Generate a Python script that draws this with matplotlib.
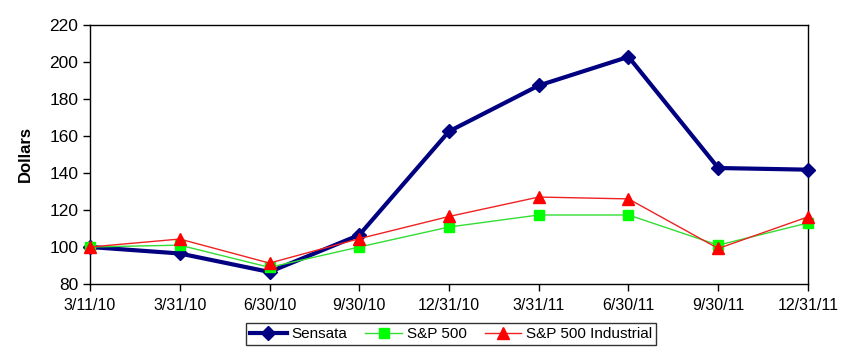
import matplotlib
matplotlib.use('Agg')
import matplotlib.pyplot as plt

plt.rcParams['font.family'] = ['Liberation Sans', 'DejaVu Sans']

dates = ['3/11/10', '3/31/10', '6/30/10', '9/30/10', '12/31/10',
         '3/31/11', '6/30/11', '9/30/11', '12/31/11']
sensata = [100, 96.5, 86.5, 106.5, 162.5, 187.3, 202.8, 142.7, 141.8]
sp500 = [100, 101, 89, 100, 110.8, 117.3, 117.3, 101, 113]
sp500_ind = [100, 104.3, 91.3, 104.5, 116.5, 127, 126, 99.2, 116.3]

x = list(range(len(dates)))

fig = plt.figure(figsize=(8.54, 3.54), dpi=100)
ax = fig.add_axes([90 / 854, 1 - 284 / 354, 718 / 854, 259 / 354])

ax.plot(x, sensata, color='#000080', lw=3, marker='D', ms=7,
        label='Sensata', clip_on=False, zorder=3)
ax.plot(x, sp500, color='#33dd33', lw=1, marker='s', ms=7,
        mfc='#00ff00', mec='#00ff00', label='S&P 500', clip_on=False, zorder=4)
ax.plot(x, sp500_ind, color='#ee2222', lw=1, marker='^', ms=8,
        mfc='#ff0000', mec='#ff0000', label='S&P 500 Industrial',
        clip_on=False, zorder=5)

ax.set_xlim(0, len(dates) - 1)
ax.set_ylim(80, 220)
ax.set_yticks(range(80, 221, 20))
ax.set_xticks(x)
ax.set_xticklabels(dates, fontsize=11.5)
ax.tick_params(axis='y', labelsize=12.5, direction='out', length=5, width=1)
ax.tick_params(axis='x', direction='out', length=5, width=1, pad=5)
for s in ax.spines.values():
    s.set_linewidth(1)
    s.set_color('black')

ax.set_ylabel('Dollars', fontsize=12, fontweight='bold', labelpad=12)

leg = fig.legend(loc='center', bbox_to_anchor=(451 / 854, 1 - 334 / 354),
                 ncol=3, fontsize=11, frameon=True, fancybox=False,
                 edgecolor='black', borderpad=0.25, handlelength=2.4,
                 columnspacing=1.2, handletextpad=0.3)
leg.get_frame().set_linewidth(1)

fig.savefig('out.png', dpi=100)
